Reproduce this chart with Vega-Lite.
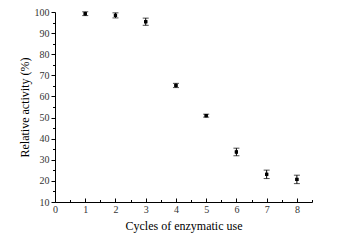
{
  "$schema": "https://vega.github.io/schema/vega-lite/v6.json",
  "autosize": "none",
  "width": 257,
  "height": 190,
  "padding": {"left": 55, "top": 12, "right": 26, "bottom": 40},
  "background": "white",
  "config": {
    "view": {"stroke": null},
    "font": "Liberation Serif",
    "axis": {"grid": false, "domainColor": "black", "tickColor": "black", "labelColor": "#333", "titleColor": "black", "labelFont": "Liberation Serif", "titleFont": "Liberation Serif", "labelFontSize": 10, "titleFontSize": 12, "titleFontWeight": "normal", "domainWidth": 1, "tickWidth": 1, "labelOverlap": false, "labelFlush": false}
  },
  "data": {"values": [
    {"cycle": 1, "activity": 99.2, "err": 0.9},
    {"cycle": 2, "activity": 98.4, "err": 1.2},
    {"cycle": 3, "activity": 95.4, "err": 1.7},
    {"cycle": 4, "activity": 65.2, "err": 1.0},
    {"cycle": 5, "activity": 50.9, "err": 0.7},
    {"cycle": 6, "activity": 33.7, "err": 1.8},
    {"cycle": 7, "activity": 23.1, "err": 2.0},
    {"cycle": 8, "activity": 20.7, "err": 2.0}
  ]},
  "resolve": {"axis": {"x": "independent", "y": "independent"}},
  "layer": [
    {
      "mark": {"type": "errorbar", "ticks": {"size": 6, "color": "black"}, "rule": {"color": "black"}},
      "encoding": {
        "x": {"field": "cycle", "type": "quantitative",
          "scale": {"domain": [0, 8.5], "nice": false, "zero": false},
          "axis": {"orient": "bottom", "title": "Cycles of enzymatic use",
            "values": [0, 2, 4, 6, 8], "tickSize": -4, "labelPadding": 6, "titlePadding": 6}},
        "y": {"field": "activity", "type": "quantitative", "title": "Relative activity (%)",
          "scale": {"domain": [10, 100], "nice": false, "zero": false},
          "axis": {"orient": "left", "title": "Relative activity (%)",
            "values": [10, 30, 50, 70, 90], "tickSize": 4, "labelPadding": 2, "titlePadding": 8}},
        "yError": {"field": "err"}
      }
    },
    {
      "mark": {"type": "point", "shape": "square", "filled": true, "color": "black", "size": 10, "opacity": 1},
      "encoding": {
        "x": {"field": "cycle", "type": "quantitative",
          "axis": {"orient": "bottom", "title": null, "domain": false,
            "values": [1, 3, 5, 7], "tickSize": -4, "labelPadding": 6}},
        "y": {"field": "activity", "type": "quantitative",
          "axis": {"orient": "left", "title": null, "domain": false,
            "values": [20, 40, 60, 80, 100], "tickSize": 4, "labelPadding": 2}}
      }
    },
    {
      "mark": {"type": "point", "shape": "square", "filled": true, "color": "black", "size": 10, "opacity": 1},
      "encoding": {
        "x": {"field": "cycle", "type": "quantitative",
          "axis": {"orient": "bottom", "title": null, "domain": false, "labels": false,
            "values": [0.5, 1.5, 2.5, 3.5, 4.5, 5.5, 6.5, 7.5, 8.5], "tickSize": -2.5}},
        "y": {"field": "activity", "type": "quantitative",
          "axis": {"orient": "left", "title": null, "domain": false, "labels": false,
            "values": [15, 25, 35, 45, 55, 65, 75, 85, 95], "tickSize": 2.5}}
      }
    }
  ]
}
